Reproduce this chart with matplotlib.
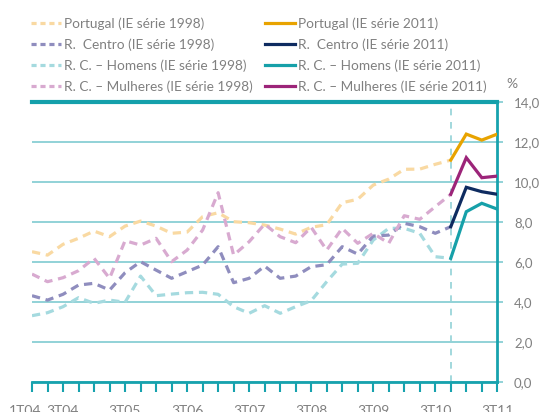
import numpy as np
import matplotlib
matplotlib.use("Agg")
import matplotlib.pyplot as plt
import matplotlib.transforms as mtransforms
from matplotlib.lines import Line2D

plt.rcParams['font.family'] = ['Lato', 'DejaVu Sans']

quarters = ['1T04', '2T04', '3T04', '4T04', '1T05', '2T05', '3T05', '4T05',
            '1T06', '2T06', '3T06', '4T06', '1T07', '2T07', '3T07', '4T07',
            '1T08', '2T08', '3T08', '4T08', '1T09', '2T09', '3T09', '4T09',
            '1T10', '2T10', '3T10', '4T10', '1T11', '2T11', '3T11']
shown_labels = ['1T04', '3T04', '3T05', '3T06', '3T07', '3T08', '3T09', '3T10', '3T11']
break_quarter = '4T10'

# IE série 1998: 1T04 .. 4T10
pt_1998 = [6.5, 6.33, 6.87, 7.17, 7.53, 7.25, 7.78, 8.03, 7.78, 7.42, 7.48, 8.25, 8.45, 8.0,
           7.95, 7.83, 7.63, 7.38, 7.72, 7.85, 8.95, 9.12, 9.83, 10.13, 10.62, 10.63, 10.87, 11.08]
centro_1998 = [4.3, 4.08, 4.37, 4.83, 4.92, 4.58, 5.45, 6.0, 5.58, 5.17, 5.5, 5.83, 6.75, 4.95,
               5.17, 5.78, 5.17, 5.28, 5.75, 5.85, 6.75, 6.38, 7.28, 7.33, 7.92, 7.75, 7.42, 7.75]
homens_1998 = [3.3, 3.45, 3.75, 4.2, 3.92, 4.08, 3.97, 5.28, 4.3, 4.38, 4.45, 4.47, 4.37, 3.75,
               3.42, 3.8, 3.42, 3.75, 4.05, 5.0, 5.88, 5.92, 7.08, 7.67, 7.67, 7.42, 6.25, 6.17]
mulheres_1998 = [5.38, 5.0, 5.2, 5.55, 6.17, 5.17, 7.05, 6.83, 7.17, 6.0, 6.58, 7.58, 9.45, 6.33,
                 7.0, 7.88, 7.25, 6.95, 7.72, 6.58, 7.67, 6.92, 7.42, 6.92, 8.3, 8.12, 8.75, 9.37]

# IE série 2011: 4T10 .. 3T11
pt_2011 = [11.08, 12.38, 12.08, 12.38]
centro_2011 = [7.75, 9.72, 9.5, 9.37]
homens_2011 = [6.17, 8.5, 8.92, 8.63]
mulheres_2011 = [9.37, 11.2, 10.2, 10.28]

labels_1998 = ['Portugal (IE série 1998)', 'R.  Centro (IE série 1998)',
               'R. C. – Homens (IE série 1998)', 'R. C. – Mulheres (IE série 1998)']
labels_2011 = ['Portugal (IE série 2011)', 'R.  Centro (IE série 2011)',
               'R. C. – Homens (IE série 2011)', 'R. C. – Mulheres (IE série 2011)']
colors_1998 = ['#F9D9A2', '#8F8DBE', '#A5DADF', '#D8AAD0']
colors_2011 = ['#E8A300', '#0E2B60', '#16A0A9', '#9C2479']

teal = '#17A2AE'
grid_c = '#92D2D7'
grey = '#808080'

x = np.arange(len(quarters))
i_break = quarters.index(break_quarter)
x_old = x[:i_break + 1]
x_new = x[i_break:]

fig = plt.figure(figsize=(5.39, 4.12), dpi=100)
ax = fig.add_axes([32 / 539, 1 - 381.7 / 412, (497.3 - 32) / 539, (381.7 - 101.7) / 412])

for v in range(0, 16, 2):
    ax.axhline(v, color=grid_c, lw=1.4, zorder=1)
ax.axvline(i_break, color=grid_c, lw=1.2, ls=(0, (4, 4)), zorder=1)

old = [pt_1998, centro_1998, homens_1998, mulheres_1998]
new = [pt_2011, centro_2011, homens_2011, mulheres_2011]
draw_order = [2, 0, 1, 3]
for k in draw_order:
    ax.plot(x_old, old[k], color=colors_1998[k], lw=2.3, ls=(0, (2.6, 1.8)), zorder=3)
for k in draw_order:
    ax.plot(x_new, new[k], color=colors_2011[k], lw=2.3, zorder=4, solid_joinstyle='miter')

ax.set_xlim(0, len(quarters) - 1)
ax.set_ylim(0, 14)

ax.spines['left'].set_visible(False)
ax.spines['top'].set_color('#14A0AB')
ax.spines['top'].set_linewidth(3)
ax.spines['right'].set_color(teal)
ax.spines['right'].set_linewidth(2)
ax.spines['bottom'].set_color(teal)
ax.spines['bottom'].set_linewidth(2)

ax.yaxis.tick_right()
ax.set_yticks(np.arange(0, 16, 2))
ax.set_yticklabels([f'{v:.1f}'.replace('.', ',') for v in np.arange(0, 16, 2)])
ax.tick_params(axis='y', direction='out', length=4, width=1.4, color=grid_c,
               labelcolor=grey, labelsize=9.5, pad=8)

ax.set_xticks(x)
ax.set_xticklabels([q if q in shown_labels else '' for q in quarters])
ax.tick_params(axis='x', direction='out', length=7, width=1.5, color=teal,
               labelcolor=grey, labelsize=10, pad=9.5)
first = ax.xaxis.get_majorticklabels()[0]
first.set_transform(first.get_transform() +
                    mtransforms.ScaledTranslation(-6.5 / 100, 0, fig.dpi_scale_trans))

fig.text(512 / 539, 1 - 84 / 412, '%', color=grey, fontsize=10, ha='center', va='center')

h_old = [Line2D([], [], color=c, lw=2.3, ls=(0, (1.6, 1.2))) for c in colors_1998]
h_new = [Line2D([], [], color=c, lw=2.3) for c in colors_2011]
leg_kw = dict(frameon=False, fontsize=9.8, labelcolor=grey, handlelength=2.2,
              handletextpad=0.2, labelspacing=0.62, borderpad=0, borderaxespad=0,
              loc='upper left')
l1 = fig.legend(h_old, labels_1998, bbox_to_anchor=(31 / 539, 1 - 17 / 412), **leg_kw)
l2 = fig.legend(h_new, labels_2011, bbox_to_anchor=(265 / 539, 1 - 17 / 412), **leg_kw)

fig.savefig('out.png', dpi=100)
